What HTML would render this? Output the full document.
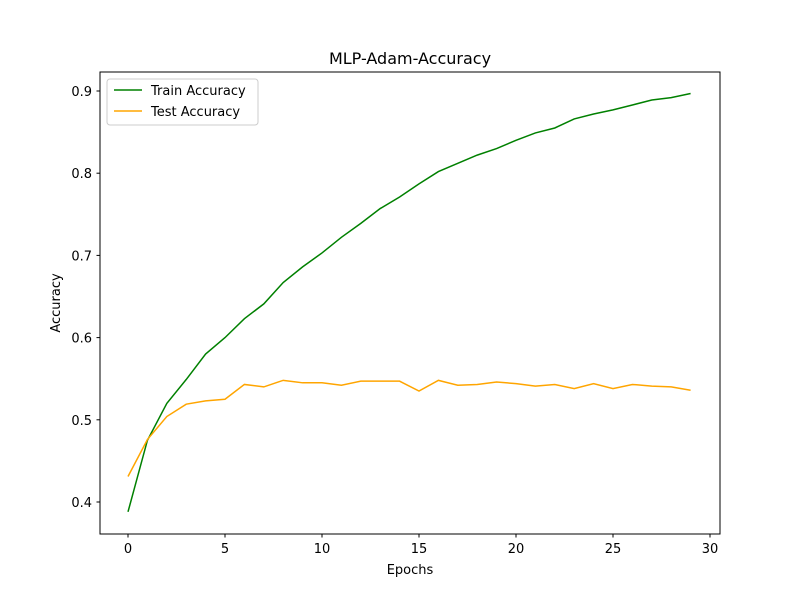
<!DOCTYPE html>
<html><head><meta charset="utf-8"><style>
body{margin:0;background:#fff;}
svg text{font-family:"DejaVu Sans","Liberation Sans",sans-serif;fill:#000;}
</style></head><body>
<svg id="chart" width="800" height="600" xmlns="http://www.w3.org/2000/svg">
<rect width="800" height="600" fill="#fff"/>
<text x="410" y="64" font-size="16" text-anchor="middle">MLP-Adam-Accuracy</text>
<g id="plot"></g>
<rect x="100" y="72" width="620" height="462" fill="none" stroke="#000" stroke-width="1"/>
<text x="410" y="574" font-size="13" text-anchor="middle">Epochs</text>
<text transform="translate(60,303) rotate(-90)" font-size="13" text-anchor="middle">Accuracy</text>
<g>
<rect x="107" y="79" width="151" height="46" fill="#fff" fill-opacity="0.8" stroke="#ccc" rx="3"/>
<line x1="114" y1="90" x2="142" y2="90" stroke="green" stroke-width="1.5"/>
<text x="151" y="95" font-size="13">Train Accuracy</text>
<line x1="114" y1="111" x2="142" y2="111" stroke="orange" stroke-width="1.5"/>
<text x="151" y="116" font-size="13">Test Accuracy</text>
</g>
</svg>
<script>
const epochs = [0,1,2,3,4,5,6,7,8,9,10,11,12,13,14,15,16,17,18,19,20,21,22,23,24,25,26,27,28,29];
const trainAcc = [0.388,0.475,0.520,0.549,0.580,0.600,0.623,0.641,0.667,0.686,0.703,0.722,0.739,0.757,0.771,0.787,0.802,0.812,0.822,0.830,0.840,0.849,0.855,0.866,0.872,0.877,0.883,0.889,0.892,0.897];
const testAcc = [0.431,0.476,0.504,0.519,0.523,0.525,0.543,0.540,0.548,0.545,0.545,0.542,0.547,0.547,0.547,0.535,0.548,0.542,0.543,0.546,0.544,0.541,0.543,0.538,0.544,0.538,0.543,0.541,0.540,0.536];
const xTicks = [0,5,10,15,20,25,30];
const yTicks = [0.4,0.5,0.6,0.7,0.8,0.9];
const NS="http://www.w3.org/2000/svg";
const xs = v => 128 + v*19.4;
const ys = v => 502 - (v-0.4)*822;
const plot=document.getElementById('plot');
function mk(t,a){const e=document.createElementNS(NS,t);for(const k in a)e.setAttribute(k,a[k]);plot.appendChild(e);return e;}
xTicks.forEach(t=>{
  const l=mk('line',{x1:xs(t),x2:xs(t),y1:534,y2:537.5,stroke:'#000'});
  
  
  const tx=mk('text',{x:xs(t),y:553,'font-size':13,'text-anchor':'middle'});tx.textContent=t;
  
  
});
yTicks.forEach(t=>{
  const l=mk('line',{x1:96.5,x2:100,y1:ys(t),y2:ys(t),stroke:'#000'});
  
  
  const tx=mk('text',{x:92,y:ys(t)+5,'font-size':13,'text-anchor':'end'});tx.textContent=t.toFixed(1);
  
  
});
function line(vals,color,name){
  const p=mk('polyline',{points:vals.map((v,i)=>xs(epochs[i])+','+ys(v)).join(' '),fill:'none',stroke:color,'stroke-width':1.5});
  
  
}
line(trainAcc,'green','train-accuracy-line');
line(testAcc,'orange','test-accuracy-line');
</script>
</body></html>
